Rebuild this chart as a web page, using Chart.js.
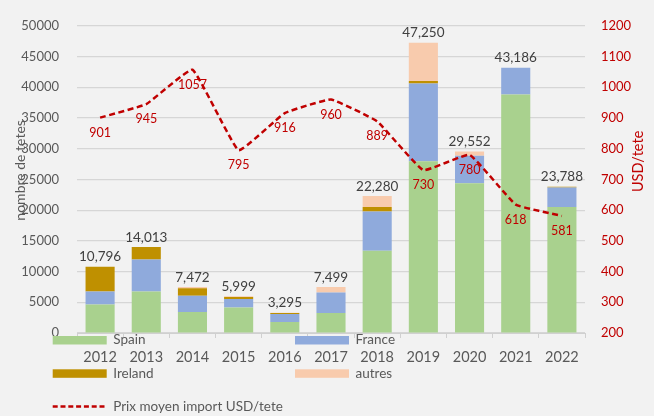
<!DOCTYPE html>
<html>
<head>
<meta charset="utf-8">
<script src="https://cdn.jsdelivr.net/npm/chart.js@4/dist/chart.umd.min.js"></script>
<style>
  html, body { margin: 0; padding: 0; background: #f2f2f2; }
  #wrap { position: relative; width: 654px; height: 416px; }
  canvas { display: block; }
</style>
</head>
<body>
<div id="wrap"><canvas id="c" width="654" height="416"></canvas></div>
<script>
// ---- data ----
const years   = ['2012','2013','2014','2015','2016','2017','2018','2019','2020','2021','2022'];
const spain   = [4640, 6750, 3420, 4160, 1790, 3250, 13400, 27950, 24370, 38810, 20500];
const france  = [2100, 5200, 2650, 1380, 1310, 3330, 6380, 12650, 4480, 4376, 3170];
const ireland = [4056, 2063, 1200, 320, 150, 0, 720, 430, 0, 0, 118];
const autres  = [0, 0, 202, 139, 45, 919, 1780, 6220, 702, 0, 0];
const totals  = [10796, 14013, 7472, 5999, 3295, 7499, 22280, 47250, 29552, 43186, 23788];
const prix    = [901, 945, 1057, 795, 916, 960, 889, 730, 780, 618, 581];
const leftTicks  = { min: 0, max: 50000, step: 5000 };
const rightTicks = { min: 200, max: 1200, step: 100 };

const RED = '#C00000';
const GREY = '#595959';
Chart.defaults.font.family = 'Lato, "Liberation Sans", sans-serif';

const fmt = n => n.toLocaleString('en-US');

const totalsPlugin = {
  id: 'totals',
  afterDatasetsDraw(chart) {
    const ctx = chart.ctx, xs = chart.scales.x, ys = chart.scales.y, y1 = chart.scales.y1;
    ctx.save();
    ctx.font = '13.5px Lato, sans-serif';
    ctx.fillStyle = '#404040';
    ctx.textAlign = 'center';
    ctx.textBaseline = 'bottom';
    totals.forEach((t, i) => {
      ctx.fillText(fmt(t), xs.getPixelForValue(i), ys.getPixelForValue(t) - 3);
    });
    // line labels
    ctx.font = '12.5px Lato, sans-serif';
    ctx.fillStyle = RED;
    ctx.textBaseline = 'middle';
    prix.forEach((p, i) => {
      ctx.fillText(String(p), xs.getPixelForValue(i), y1.getPixelForValue(p) + 15);
    });
    ctx.restore();
  }
};

const decorPlugin = {
  id: 'decor',
  afterDraw(chart) {
    const ctx = chart.ctx;
    const ca = chart.chartArea;
    ctx.save();
    // axis titles
    ctx.textAlign = 'center';
    ctx.textBaseline = 'middle';
    ctx.font = '14px Lato, sans-serif';
    ctx.fillStyle = GREY;
    ctx.translate(20, (ca.top + ca.bottom) / 2 - 9);
    ctx.rotate(-Math.PI / 2);
    ctx.fillText('nombre de tetes', 0, 0);
    ctx.restore();
    ctx.save();
    ctx.textAlign = 'center';
    ctx.textBaseline = 'middle';
    ctx.font = '14.5px Lato, sans-serif';
    ctx.fillStyle = RED;
    ctx.translate(638, (ca.top + ca.bottom) / 2 - 18);
    ctx.rotate(-Math.PI / 2);
    ctx.fillText('USD/tete', 0, 0);
    ctx.restore();

    // legend (overlapping the category axis like the original)
    const ds = chart.data.datasets;
    const cols = [52.7, 295];
    const rows = [340, 373.3, 406.5];
    const items = [
      { d: ds[0], c: 0, r: 0 }, { d: ds[1], c: 1, r: 0 },
      { d: ds[2], c: 0, r: 1 }, { d: ds[3], c: 1, r: 1 },
      { d: ds[4], c: 0, r: 2 }
    ];
    ctx.save();
    ctx.font = '13.5px Lato, sans-serif';
    ctx.textBaseline = 'middle';
    ctx.textAlign = 'left';
    items.forEach(it => {
      const x = cols[it.c], y = rows[it.r], w = 54;
      if (it.d.type === 'line') {
        ctx.strokeStyle = it.d.borderColor;
        ctx.lineWidth = 2.5;
        ctx.setLineDash([5, 2.8]);
        ctx.beginPath();
        ctx.moveTo(x, y);
        ctx.lineTo(x + w, y);
        ctx.stroke();
        ctx.setLineDash([]);
      } else {
        ctx.fillStyle = it.d.backgroundColor;
        ctx.fillRect(x, y - 4, w, 8.5);
      }
      ctx.fillStyle = GREY;
      ctx.fillText(it.d.label, x + w + 6.5, y);
    });
    ctx.restore();
  }
};

new Chart(document.getElementById('c'), {
  data: {
    labels: years,
    datasets: [
      { type: 'bar', label: 'Spain',   data: spain,   backgroundColor: '#A9D18E', stack: 's', order: 2 },
      { type: 'bar', label: 'France',  data: france,  backgroundColor: '#8FAADC', stack: 's', order: 2 },
      { type: 'bar', label: 'Ireland', data: ireland, backgroundColor: '#BF9000', stack: 's', order: 2 },
      { type: 'bar', label: 'autres',  data: autres,  backgroundColor: '#F8CBAD', stack: 's', order: 2 },
      { type: 'line', label: 'Prix moyen import USD/tete', data: prix, yAxisID: 'y1',
        borderColor: RED, borderWidth: 2.5, borderDash: [6, 3.5], pointRadius: 0,
        tension: 0.1, fill: false, order: 0 }
    ]
  },
  options: {
    responsive: false,
    animation: false,
    layout: { padding: { top: 16.5, bottom: 0, left: 0, right: 0 } },
    datasets: { bar: { barPercentage: 0.63, categoryPercentage: 1 } },
    plugins: { legend: { display: false }, tooltip: { enabled: false } },
    scales: {
      x: {
        stacked: true,
        afterFit(s) { s.height = 83; },
        grid: { drawOnChartArea: false, drawTicks: true, tickLength: 5, color: '#d0d0d0' },
        border: { display: true, color: '#d0d0d0', width: 1 },
        ticks: { color: GREY, font: { size: 14.5 }, padding: 11, maxRotation: 0 }
      },
      y: {
        stacked: true,
        position: 'left',
        min: leftTicks.min, max: leftTicks.max,
        afterFit(s) { s.width = 77; },
        grid: { color: '#d6d6d6', lineWidth: 1.2, drawTicks: false },
        border: { display: false },
        ticks: { stepSize: leftTicks.step, color: GREY, font: { size: 13 }, padding: 18,
                 callback: v => String(v) }
      },
      y1: {
        position: 'right',
        min: rightTicks.min, max: rightTicks.max,
        afterFit(s) { s.width = 69; },
        grid: { drawOnChartArea: false, drawTicks: false },
        border: { display: false },
        ticks: { stepSize: rightTicks.step, color: RED, font: { size: 13 }, padding: 16,
                 callback: v => String(v) }
      }
    }
  },
  plugins: [totalsPlugin, decorPlugin]
});
</script>
</body>
</html>
